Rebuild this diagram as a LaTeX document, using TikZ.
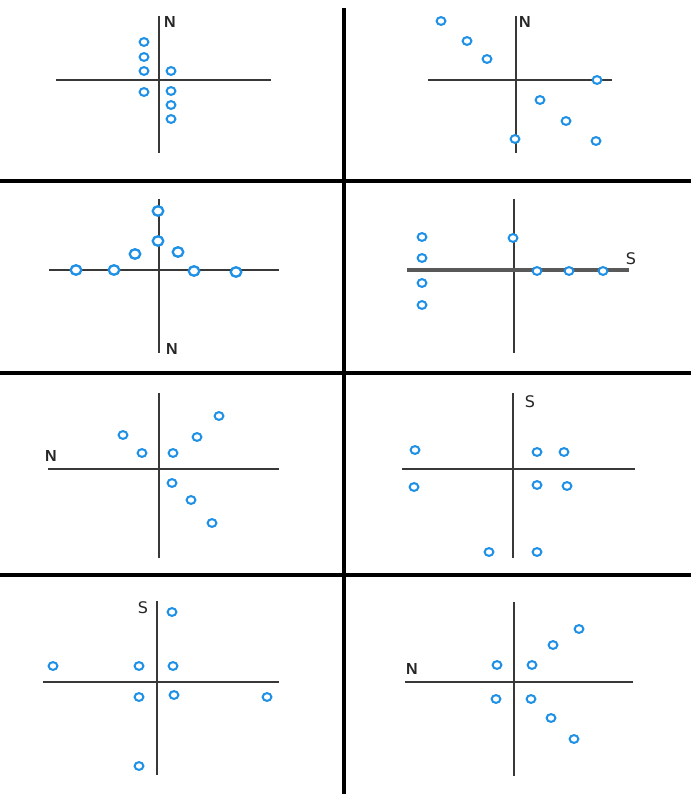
\documentclass[tikz,border=0pt]{standalone}
\usepackage{fontspec}
\setmainfont{Liberation Sans}
\newfontfamily\dejavu{DejaVu Sans}
\usetikzlibrary{shapes.geometric}
\definecolor{ptblue}{HTML}{1E90E6}
\begin{document}
\begin{tikzpicture}[x=1pt,y=-1pt,
  pt/.style={ellipse,draw=ptblue,line width=2pt,fill=white,minimum width=8.8pt,minimum height=7.8pt,inner sep=0pt},
  bigpt/.style={pt,minimum width=10.5pt,minimum height=9.5pt,line width=2.3pt},
  axis/.style={draw=black!78,line width=1.7pt},
  thickaxis/.style={draw=black!65,line width=3.2pt},
  frame/.style={draw=black,line width=3.5pt},
  nlbl/.style={font=\fontsize{16}{16}\selectfont\bfseries,text=black!85,inner sep=0pt},
  slbl/.style={font=\dejavu\fontsize{16}{16}\selectfont,text=black!85,inner sep=0pt}]
\useasboundingbox (0,0) rectangle (691,794);
\fill[white] (0,0) rectangle (691,794);
% frame
\coordinate (fvt) at (344,8); \coordinate (fvb) at (344,794);
\coordinate (fh1l) at (0,181); \coordinate (fh1r) at (691,181);
\coordinate (fh2l) at (0,373); \coordinate (fh2r) at (691,373);
\coordinate (fh3l) at (0,575); \coordinate (fh3r) at (691,575);
\draw[frame] (fvt) -- (fvb);
\draw[frame] (fh1l) -- (fh1r);
\draw[frame] (fh2l) -- (fh2r);
\draw[frame] (fh3l) -- (fh3r);
% panel 1
\coordinate (a1t) at (159,16); \coordinate (a1b) at (159,153);
\coordinate (a1l) at (56,80); \coordinate (a1r) at (271,80);
\draw[axis] (a1t) -- (a1b); \draw[axis] (a1l) -- (a1r);
\node[nlbl] (n1) at (170,22) {N};
\foreach \x/\y [count=\i] in {144/42,144/57,144/71,144/92,171/71,171/91,171/105,171/119}
  \node[pt] (c1-\i) at (\x,\y) {};
% panel 2
\coordinate (a2t) at (516,16); \coordinate (a2b) at (516,153);
\coordinate (a2l) at (428,80); \coordinate (a2r) at (612,80);
\draw[axis] (a2t) -- (a2b); \draw[axis] (a2l) -- (a2r);
\node[nlbl] (n2) at (525,22) {N};
\foreach \x/\y [count=\i] in {441/21,467/41,487/59,597/80,540/100,566/121,515/139,596/141}
  \node[pt] (c2-\i) at (\x,\y) {};
% panel 3
\coordinate (a3t) at (159,199); \coordinate (a3b) at (159,353);
\coordinate (a3l) at (49,270); \coordinate (a3r) at (279,270);
\draw[axis] (a3t) -- (a3b); \draw[axis] (a3l) -- (a3r);
\node[nlbl] (n3) at (172,349) {N};
\foreach \x/\y [count=\i] in {158/211,158/241,135/254,178/252,76/270,114/270,194/271,236/272}
  \node[bigpt] (c3-\i) at (\x,\y) {};
% panel 4
\coordinate (a4t) at (514,199); \coordinate (a4b) at (514,353);
\coordinate (a4l) at (407,270); \coordinate (a4r) at (629,270);
\draw[axis] (a4t) -- (a4b); \draw[thickaxis] (a4l) -- (a4r);
\node[slbl] (s4) at (631,259) {S};
\foreach \x/\y [count=\i] in {422/237,422/258,422/283,422/305,513/238,537/271,569/271,603/271}
  \node[pt] (c4-\i) at (\x,\y) {};
% panel 5
\coordinate (a5t) at (159,393); \coordinate (a5b) at (159,558);
\coordinate (a5l) at (48,469); \coordinate (a5r) at (279,469);
\draw[axis] (a5t) -- (a5b); \draw[axis] (a5l) -- (a5r);
\node[nlbl] (n5) at (51,456) {N};
\foreach \x/\y [count=\i] in {123/435,142/453,173/453,197/437,219/416,172/483,191/500,212/523}
  \node[pt] (c5-\i) at (\x,\y) {};
% panel 6
\coordinate (a6t) at (513,393); \coordinate (a6b) at (513,558);
\coordinate (a6l) at (402,469); \coordinate (a6r) at (635,469);
\draw[axis] (a6t) -- (a6b); \draw[axis] (a6l) -- (a6r);
\node[slbl] (s6) at (530,402) {S};
\foreach \x/\y [count=\i] in {415/450,414/487,537/452,564/452,537/485,567/486,489/552,537/552}
  \node[pt] (c6-\i) at (\x,\y) {};
% panel 7
\coordinate (a7t) at (157,601); \coordinate (a7b) at (157,775);
\coordinate (a7l) at (43,682); \coordinate (a7r) at (279,682);
\draw[axis] (a7t) -- (a7b); \draw[axis] (a7l) -- (a7r);
\node[slbl] (s7) at (143,608) {S};
\foreach \x/\y [count=\i] in {172/612,53/666,139/666,173/666,139/697,174/695,267/697,139/766}
  \node[pt] (c7-\i) at (\x,\y) {};
% panel 8
\coordinate (a8t) at (514,602); \coordinate (a8b) at (514,776);
\coordinate (a8l) at (405,682); \coordinate (a8r) at (633,682);
\draw[axis] (a8t) -- (a8b); \draw[axis] (a8l) -- (a8r);
\node[nlbl] (n8) at (412,669) {N};
\foreach \x/\y [count=\i] in {497/665,532/665,553/645,579/629,496/699,531/699,551/718,574/739}
  \node[pt] (c8-\i) at (\x,\y) {};
\end{tikzpicture}
\end{document}
